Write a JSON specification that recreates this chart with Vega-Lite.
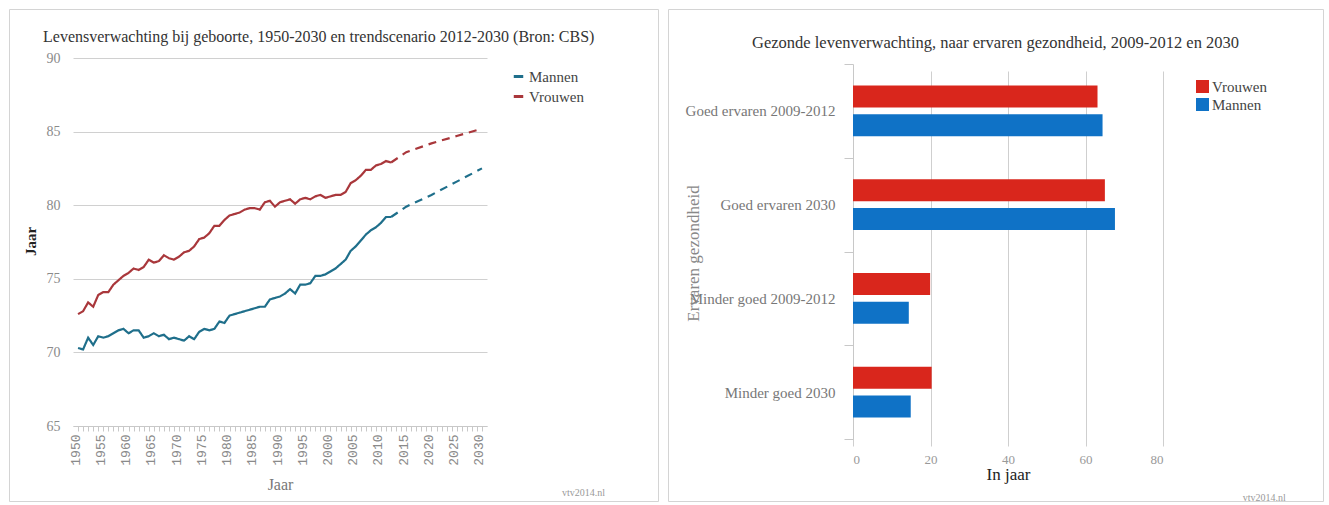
{
  "$schema": "https://vega.github.io/schema/vega-lite/v6.json",
  "background": "white",
  "padding": {"left": 8, "top": 1, "right": 0, "bottom": 0},
  "autosize": {"type": "pad"},
  "spacing": 10,
  "bounds": "flush",
  "resolve": {"scale": {"color": "independent"}, "legend": {"color": "independent"}},
  "config": {
    "font": "Liberation Serif",
    "view": {"stroke": "#d4d4d4", "strokeWidth": 1},
    "axis": {"labelFont": "Liberation Serif", "titleFont": "Liberation Serif"},
    "legend": {"labelFont": "Liberation Serif"},
    "title": {"font": "Liberation Serif", "fontWeight": "normal", "fontSize": 15, "color": "#333"},
    "text": {"font": "Liberation Serif"}
  },
  "datasets": {
    "levensverwachting": [
      {"jaar": 1950, "geslacht": "Mannen", "reeks": "waargenomen", "waarde": 70.3},
      {"jaar": 1951, "geslacht": "Mannen", "reeks": "waargenomen", "waarde": 70.2},
      {"jaar": 1952, "geslacht": "Mannen", "reeks": "waargenomen", "waarde": 71.0},
      {"jaar": 1953, "geslacht": "Mannen", "reeks": "waargenomen", "waarde": 70.5},
      {"jaar": 1954, "geslacht": "Mannen", "reeks": "waargenomen", "waarde": 71.1},
      {"jaar": 1955, "geslacht": "Mannen", "reeks": "waargenomen", "waarde": 71.0},
      {"jaar": 1956, "geslacht": "Mannen", "reeks": "waargenomen", "waarde": 71.1},
      {"jaar": 1957, "geslacht": "Mannen", "reeks": "waargenomen", "waarde": 71.3},
      {"jaar": 1958, "geslacht": "Mannen", "reeks": "waargenomen", "waarde": 71.5},
      {"jaar": 1959, "geslacht": "Mannen", "reeks": "waargenomen", "waarde": 71.6},
      {"jaar": 1960, "geslacht": "Mannen", "reeks": "waargenomen", "waarde": 71.3},
      {"jaar": 1961, "geslacht": "Mannen", "reeks": "waargenomen", "waarde": 71.5},
      {"jaar": 1962, "geslacht": "Mannen", "reeks": "waargenomen", "waarde": 71.5},
      {"jaar": 1963, "geslacht": "Mannen", "reeks": "waargenomen", "waarde": 71.0},
      {"jaar": 1964, "geslacht": "Mannen", "reeks": "waargenomen", "waarde": 71.1},
      {"jaar": 1965, "geslacht": "Mannen", "reeks": "waargenomen", "waarde": 71.3},
      {"jaar": 1966, "geslacht": "Mannen", "reeks": "waargenomen", "waarde": 71.1},
      {"jaar": 1967, "geslacht": "Mannen", "reeks": "waargenomen", "waarde": 71.2},
      {"jaar": 1968, "geslacht": "Mannen", "reeks": "waargenomen", "waarde": 70.9},
      {"jaar": 1969, "geslacht": "Mannen", "reeks": "waargenomen", "waarde": 71.0},
      {"jaar": 1970, "geslacht": "Mannen", "reeks": "waargenomen", "waarde": 70.9},
      {"jaar": 1971, "geslacht": "Mannen", "reeks": "waargenomen", "waarde": 70.8},
      {"jaar": 1972, "geslacht": "Mannen", "reeks": "waargenomen", "waarde": 71.1},
      {"jaar": 1973, "geslacht": "Mannen", "reeks": "waargenomen", "waarde": 70.9},
      {"jaar": 1974, "geslacht": "Mannen", "reeks": "waargenomen", "waarde": 71.4},
      {"jaar": 1975, "geslacht": "Mannen", "reeks": "waargenomen", "waarde": 71.6},
      {"jaar": 1976, "geslacht": "Mannen", "reeks": "waargenomen", "waarde": 71.5},
      {"jaar": 1977, "geslacht": "Mannen", "reeks": "waargenomen", "waarde": 71.6},
      {"jaar": 1978, "geslacht": "Mannen", "reeks": "waargenomen", "waarde": 72.1},
      {"jaar": 1979, "geslacht": "Mannen", "reeks": "waargenomen", "waarde": 72.0},
      {"jaar": 1980, "geslacht": "Mannen", "reeks": "waargenomen", "waarde": 72.5},
      {"jaar": 1981, "geslacht": "Mannen", "reeks": "waargenomen", "waarde": 72.6},
      {"jaar": 1982, "geslacht": "Mannen", "reeks": "waargenomen", "waarde": 72.7},
      {"jaar": 1983, "geslacht": "Mannen", "reeks": "waargenomen", "waarde": 72.8},
      {"jaar": 1984, "geslacht": "Mannen", "reeks": "waargenomen", "waarde": 72.9},
      {"jaar": 1985, "geslacht": "Mannen", "reeks": "waargenomen", "waarde": 73.0},
      {"jaar": 1986, "geslacht": "Mannen", "reeks": "waargenomen", "waarde": 73.1},
      {"jaar": 1987, "geslacht": "Mannen", "reeks": "waargenomen", "waarde": 73.1},
      {"jaar": 1988, "geslacht": "Mannen", "reeks": "waargenomen", "waarde": 73.6},
      {"jaar": 1989, "geslacht": "Mannen", "reeks": "waargenomen", "waarde": 73.7},
      {"jaar": 1990, "geslacht": "Mannen", "reeks": "waargenomen", "waarde": 73.8},
      {"jaar": 1991, "geslacht": "Mannen", "reeks": "waargenomen", "waarde": 74.0},
      {"jaar": 1992, "geslacht": "Mannen", "reeks": "waargenomen", "waarde": 74.3},
      {"jaar": 1993, "geslacht": "Mannen", "reeks": "waargenomen", "waarde": 74.0},
      {"jaar": 1994, "geslacht": "Mannen", "reeks": "waargenomen", "waarde": 74.6},
      {"jaar": 1995, "geslacht": "Mannen", "reeks": "waargenomen", "waarde": 74.6},
      {"jaar": 1996, "geslacht": "Mannen", "reeks": "waargenomen", "waarde": 74.7},
      {"jaar": 1997, "geslacht": "Mannen", "reeks": "waargenomen", "waarde": 75.2},
      {"jaar": 1998, "geslacht": "Mannen", "reeks": "waargenomen", "waarde": 75.2},
      {"jaar": 1999, "geslacht": "Mannen", "reeks": "waargenomen", "waarde": 75.3},
      {"jaar": 2000, "geslacht": "Mannen", "reeks": "waargenomen", "waarde": 75.5},
      {"jaar": 2001, "geslacht": "Mannen", "reeks": "waargenomen", "waarde": 75.7},
      {"jaar": 2002, "geslacht": "Mannen", "reeks": "waargenomen", "waarde": 76.0},
      {"jaar": 2003, "geslacht": "Mannen", "reeks": "waargenomen", "waarde": 76.3},
      {"jaar": 2004, "geslacht": "Mannen", "reeks": "waargenomen", "waarde": 76.9},
      {"jaar": 2005, "geslacht": "Mannen", "reeks": "waargenomen", "waarde": 77.2},
      {"jaar": 2006, "geslacht": "Mannen", "reeks": "waargenomen", "waarde": 77.6},
      {"jaar": 2007, "geslacht": "Mannen", "reeks": "waargenomen", "waarde": 78.0},
      {"jaar": 2008, "geslacht": "Mannen", "reeks": "waargenomen", "waarde": 78.3},
      {"jaar": 2009, "geslacht": "Mannen", "reeks": "waargenomen", "waarde": 78.5},
      {"jaar": 2010, "geslacht": "Mannen", "reeks": "waargenomen", "waarde": 78.8},
      {"jaar": 2011, "geslacht": "Mannen", "reeks": "waargenomen", "waarde": 79.2},
      {"jaar": 2012, "geslacht": "Mannen", "reeks": "waargenomen", "waarde": 79.2},
      {"jaar": 2012, "geslacht": "Mannen", "reeks": "trend", "waarde": 79.2},
      {"jaar": 2015, "geslacht": "Mannen", "reeks": "trend", "waarde": 79.9},
      {"jaar": 2020, "geslacht": "Mannen", "reeks": "trend", "waarde": 80.7},
      {"jaar": 2025, "geslacht": "Mannen", "reeks": "trend", "waarde": 81.6},
      {"jaar": 2030, "geslacht": "Mannen", "reeks": "trend", "waarde": 82.5},
      {"jaar": 1950, "geslacht": "Vrouwen", "reeks": "waargenomen", "waarde": 72.6},
      {"jaar": 1951, "geslacht": "Vrouwen", "reeks": "waargenomen", "waarde": 72.8},
      {"jaar": 1952, "geslacht": "Vrouwen", "reeks": "waargenomen", "waarde": 73.4},
      {"jaar": 1953, "geslacht": "Vrouwen", "reeks": "waargenomen", "waarde": 73.1},
      {"jaar": 1954, "geslacht": "Vrouwen", "reeks": "waargenomen", "waarde": 73.9},
      {"jaar": 1955, "geslacht": "Vrouwen", "reeks": "waargenomen", "waarde": 74.1},
      {"jaar": 1956, "geslacht": "Vrouwen", "reeks": "waargenomen", "waarde": 74.1},
      {"jaar": 1957, "geslacht": "Vrouwen", "reeks": "waargenomen", "waarde": 74.6},
      {"jaar": 1958, "geslacht": "Vrouwen", "reeks": "waargenomen", "waarde": 74.9},
      {"jaar": 1959, "geslacht": "Vrouwen", "reeks": "waargenomen", "waarde": 75.2},
      {"jaar": 1960, "geslacht": "Vrouwen", "reeks": "waargenomen", "waarde": 75.4},
      {"jaar": 1961, "geslacht": "Vrouwen", "reeks": "waargenomen", "waarde": 75.7},
      {"jaar": 1962, "geslacht": "Vrouwen", "reeks": "waargenomen", "waarde": 75.6},
      {"jaar": 1963, "geslacht": "Vrouwen", "reeks": "waargenomen", "waarde": 75.8},
      {"jaar": 1964, "geslacht": "Vrouwen", "reeks": "waargenomen", "waarde": 76.3},
      {"jaar": 1965, "geslacht": "Vrouwen", "reeks": "waargenomen", "waarde": 76.1},
      {"jaar": 1966, "geslacht": "Vrouwen", "reeks": "waargenomen", "waarde": 76.2},
      {"jaar": 1967, "geslacht": "Vrouwen", "reeks": "waargenomen", "waarde": 76.6},
      {"jaar": 1968, "geslacht": "Vrouwen", "reeks": "waargenomen", "waarde": 76.4},
      {"jaar": 1969, "geslacht": "Vrouwen", "reeks": "waargenomen", "waarde": 76.3},
      {"jaar": 1970, "geslacht": "Vrouwen", "reeks": "waargenomen", "waarde": 76.5},
      {"jaar": 1971, "geslacht": "Vrouwen", "reeks": "waargenomen", "waarde": 76.8},
      {"jaar": 1972, "geslacht": "Vrouwen", "reeks": "waargenomen", "waarde": 76.9},
      {"jaar": 1973, "geslacht": "Vrouwen", "reeks": "waargenomen", "waarde": 77.2},
      {"jaar": 1974, "geslacht": "Vrouwen", "reeks": "waargenomen", "waarde": 77.7},
      {"jaar": 1975, "geslacht": "Vrouwen", "reeks": "waargenomen", "waarde": 77.8},
      {"jaar": 1976, "geslacht": "Vrouwen", "reeks": "waargenomen", "waarde": 78.1},
      {"jaar": 1977, "geslacht": "Vrouwen", "reeks": "waargenomen", "waarde": 78.6},
      {"jaar": 1978, "geslacht": "Vrouwen", "reeks": "waargenomen", "waarde": 78.6},
      {"jaar": 1979, "geslacht": "Vrouwen", "reeks": "waargenomen", "waarde": 79.0},
      {"jaar": 1980, "geslacht": "Vrouwen", "reeks": "waargenomen", "waarde": 79.3},
      {"jaar": 1981, "geslacht": "Vrouwen", "reeks": "waargenomen", "waarde": 79.4},
      {"jaar": 1982, "geslacht": "Vrouwen", "reeks": "waargenomen", "waarde": 79.5},
      {"jaar": 1983, "geslacht": "Vrouwen", "reeks": "waargenomen", "waarde": 79.7},
      {"jaar": 1984, "geslacht": "Vrouwen", "reeks": "waargenomen", "waarde": 79.8},
      {"jaar": 1985, "geslacht": "Vrouwen", "reeks": "waargenomen", "waarde": 79.8},
      {"jaar": 1986, "geslacht": "Vrouwen", "reeks": "waargenomen", "waarde": 79.7},
      {"jaar": 1987, "geslacht": "Vrouwen", "reeks": "waargenomen", "waarde": 80.2},
      {"jaar": 1988, "geslacht": "Vrouwen", "reeks": "waargenomen", "waarde": 80.3},
      {"jaar": 1989, "geslacht": "Vrouwen", "reeks": "waargenomen", "waarde": 79.9},
      {"jaar": 1990, "geslacht": "Vrouwen", "reeks": "waargenomen", "waarde": 80.2},
      {"jaar": 1991, "geslacht": "Vrouwen", "reeks": "waargenomen", "waarde": 80.3},
      {"jaar": 1992, "geslacht": "Vrouwen", "reeks": "waargenomen", "waarde": 80.4},
      {"jaar": 1993, "geslacht": "Vrouwen", "reeks": "waargenomen", "waarde": 80.1},
      {"jaar": 1994, "geslacht": "Vrouwen", "reeks": "waargenomen", "waarde": 80.4},
      {"jaar": 1995, "geslacht": "Vrouwen", "reeks": "waargenomen", "waarde": 80.5},
      {"jaar": 1996, "geslacht": "Vrouwen", "reeks": "waargenomen", "waarde": 80.4},
      {"jaar": 1997, "geslacht": "Vrouwen", "reeks": "waargenomen", "waarde": 80.6},
      {"jaar": 1998, "geslacht": "Vrouwen", "reeks": "waargenomen", "waarde": 80.7},
      {"jaar": 1999, "geslacht": "Vrouwen", "reeks": "waargenomen", "waarde": 80.5},
      {"jaar": 2000, "geslacht": "Vrouwen", "reeks": "waargenomen", "waarde": 80.6},
      {"jaar": 2001, "geslacht": "Vrouwen", "reeks": "waargenomen", "waarde": 80.7},
      {"jaar": 2002, "geslacht": "Vrouwen", "reeks": "waargenomen", "waarde": 80.7},
      {"jaar": 2003, "geslacht": "Vrouwen", "reeks": "waargenomen", "waarde": 80.9},
      {"jaar": 2004, "geslacht": "Vrouwen", "reeks": "waargenomen", "waarde": 81.5},
      {"jaar": 2005, "geslacht": "Vrouwen", "reeks": "waargenomen", "waarde": 81.7},
      {"jaar": 2006, "geslacht": "Vrouwen", "reeks": "waargenomen", "waarde": 82.0},
      {"jaar": 2007, "geslacht": "Vrouwen", "reeks": "waargenomen", "waarde": 82.4},
      {"jaar": 2008, "geslacht": "Vrouwen", "reeks": "waargenomen", "waarde": 82.4},
      {"jaar": 2009, "geslacht": "Vrouwen", "reeks": "waargenomen", "waarde": 82.7},
      {"jaar": 2010, "geslacht": "Vrouwen", "reeks": "waargenomen", "waarde": 82.8},
      {"jaar": 2011, "geslacht": "Vrouwen", "reeks": "waargenomen", "waarde": 83.0},
      {"jaar": 2012, "geslacht": "Vrouwen", "reeks": "waargenomen", "waarde": 82.9},
      {"jaar": 2012, "geslacht": "Vrouwen", "reeks": "trend", "waarde": 82.9},
      {"jaar": 2015, "geslacht": "Vrouwen", "reeks": "trend", "waarde": 83.6},
      {"jaar": 2020, "geslacht": "Vrouwen", "reeks": "trend", "waarde": 84.2},
      {"jaar": 2025, "geslacht": "Vrouwen", "reeks": "trend", "waarde": 84.7},
      {"jaar": 2030, "geslacht": "Vrouwen", "reeks": "trend", "waarde": 85.2}
    ],
    "gezond": [
      {"categorie": "Goed ervaren 2009-2012", "geslacht": "Vrouwen", "jaren": 63.1},
      {"categorie": "Goed ervaren 2009-2012", "geslacht": "Mannen", "jaren": 64.4},
      {"categorie": "Goed ervaren 2030", "geslacht": "Vrouwen", "jaren": 65.0},
      {"categorie": "Goed ervaren 2030", "geslacht": "Mannen", "jaren": 67.6},
      {"categorie": "Minder goed 2009-2012", "geslacht": "Vrouwen", "jaren": 19.9},
      {"categorie": "Minder goed 2009-2012", "geslacht": "Mannen", "jaren": 14.4},
      {"categorie": "Minder goed 2030", "geslacht": "Vrouwen", "jaren": 20.3},
      {"categorie": "Minder goed 2030", "geslacht": "Mannen", "jaren": 14.9}
    ],
    "bron": [{"tekst": "vtv2014.nl"}]
  },
  "hconcat": [
    {
      "width": 649,
      "height": 492,
      "title": {
        "text": "Levensverwachting bij geboorte, 1950-2030 en trendscenario 2012-2030 (Bron: CBS)",
        "orient": "top", "anchor": "start", "frame": "group",
        "offset": -36, "dx": 34, "fontSize": 16, "color": "#333"
      },
      "layer": [
        {
          "data": {"name": "levensverwachting"},
          "mark": {"type": "line", "strokeWidth": 2.2},
          "encoding": {
            "x": {
              "field": "jaar", "type": "quantitative",
              "scale": {"domain": [1949, 2031], "range": [64, 478], "nice": false, "zero": false},
              "axis": {
                "offset": -75,
                "tickCount": 500,
                "values": [1950,1951,1952,1953,1954,1955,1956,1957,1958,1959,1960,1961,1962,1963,1964,1965,1966,1967,1968,1969,1970,1971,1972,1973,1974,1975,1976,1977,1978,1979,1980,1981,1982,1983,1984,1985,1986,1987,1988,1989,1990,1991,1992,1993,1994,1995,1996,1997,1998,1999,2000,2001,2002,2003,2004,2005,2006,2007,2008,2009,2010,2011,2012,2013,2014,2015,2016,2017,2018,2019,2020,2021,2022,2023,2024,2025,2026,2027,2028,2029,2030],
                "format": "d",
                "labelExpr": "datum.value % 5 === 0 ? datum.label : ''",
                "labelAngle": 270, "labelAlign": "right", "labelBaseline": "middle",
                "labelPadding": 3, "labelOffset": -3,
                "labelOverlap": false, "labelFlush": false, "labelBound": false,
                "labelFont": "Liberation Mono", "labelFontSize": 13, "labelColor": "#8a8a8a",
                "tickSize": 5, "tickColor": "#c8c8c8", "domainColor": "#c8c8c8",
                "grid": false,
                "title": "Jaar", "titleY": 50, "titleFontSize": 16, "titleFontWeight": "normal", "titleColor": "#777"
              }
            },
            "y": {
              "field": "waarde", "type": "quantitative",
              "scale": {"domain": [65, 90], "range": [417, 49], "nice": false, "zero": false},
              "axis": {
                "offset": -64,
                "values": [65, 70, 75, 80, 85, 90],
                "domain": false, "ticks": false, "tickSize": 0,
                "labelPadding": 13, "labelColor": "#8a8a8a", "labelFontSize": 14,
                "grid": true, "gridColor": "#d0d0d0",
                "title": "Jaar", "titleX": -38, "titleY": 232, "titleAngle": 270,
                "titleBaseline": "alphabetic", "titleColor": "#222",
                "titleFontWeight": "bold", "titleFontSize": 15
              }
            },
            "color": {
              "field": "geslacht", "type": "nominal",
              "scale": {"domain": ["Mannen", "Vrouwen"], "range": ["#1f6f8b", "#a9373b"]},
              "legend": {
                "title": null, "orient": "none", "legendX": 502, "legendY": 60,
                "symbolType": "stroke", "symbolStrokeWidth": 3, "symbolSize": 90,
                "labelFontSize": 15, "labelColor": "#444", "labelOffset": 3, "rowPadding": 4
              }
            },
            "strokeDash": {
              "field": "reeks", "type": "nominal",
              "scale": {"domain": ["waargenomen", "trend"], "range": [[1, 0], [8, 6]]},
              "legend": null
            }
          }
        },
        {
          "data": {"name": "bron"},
          "mark": {"type": "text", "align": "right", "baseline": "middle", "fontSize": 10, "color": "#999"},
          "encoding": {
            "x": {"datum": 2054.4, "type": "quantitative"},
            "y": {"datum": 60.45, "type": "quantitative"},
            "text": {"field": "tekst"}
          }
        }
      ]
    },
    {
      "width": 655,
      "height": 492,
      "title": {
        "text": "Gezonde levenverwachting, naar ervaren gezondheid, 2009-2012 en 2030",
        "orient": "top", "anchor": "middle", "frame": "group",
        "offset": -49, "fontSize": 16.5, "color": "#333"
      },
      "layer": [
        {
          "data": {"name": "gezond"},
          "mark": {"type": "bar"},
          "encoding": {
            "y": {
              "field": "categorie", "type": "nominal",
              "sort": ["Goed ervaren 2009-2012", "Goed ervaren 2030", "Minder goed 2009-2012", "Minder goed 2030"],
              "scale": {
                "domain": ["Goed ervaren 2009-2012", "Goed ervaren 2030", "Minder goed 2009-2012", "Minder goed 2030"],
                "range": [55, 430], "paddingInner": 0, "paddingOuter": 0
              },
              "axis": {
                "offset": -185,
                "domainColor": "#c8c8c8", "tickColor": "#c8c8c8", "tickSize": 9, "tickBand": "extent",
                "labelPadding": 9, "labelColor": "#777", "labelFontSize": 15, "labelLimit": 300,
                "grid": false,
                "title": "Ervaren gezondheid", "titleX": -155, "titleY": 244, "titleAngle": 270,
                "titleBaseline": "alphabetic", "titleColor": "#888", "titleFontSize": 17, "titleFontWeight": "normal"
              }
            },
            "yOffset": {
              "field": "geslacht", "type": "nominal",
              "sort": ["Vrouwen", "Mannen"],
              "scale": {"domain": ["Vrouwen", "Mannen"], "paddingInner": 0.24, "paddingOuter": 0.74}
            },
            "x": {
              "field": "jaren", "type": "quantitative",
              "scale": {"domain": [0, 80], "range": [185, 495], "nice": false},
              "axis": {
                "offset": -62,
                "values": [0, 20, 40, 60, 80],
                "domain": false, "ticks": false, "tickSize": 0,
                "labelPadding": 14, "labelColor": "#999", "labelFontSize": 13,
                "grid": true, "gridColor": "#cfcfcf",
                "title": "In jaar", "titleY": 27, "titleColor": "#222", "titleFontSize": 17, "titleFontWeight": "normal"
              }
            },
            "color": {
              "field": "geslacht", "type": "nominal",
              "scale": {"domain": ["Vrouwen", "Mannen"], "range": ["#d9261c", "#0f72c6"]},
              "legend": {
                "title": null, "orient": "none", "legendX": 527, "legendY": 70,
                "symbolType": "square", "symbolSize": 170, "symbolStrokeWidth": 0,
                "labelFontSize": 15, "labelColor": "#444", "labelOffset": 2, "rowPadding": 2
              }
            }
          }
        },
        {
          "data": {"name": "bron"},
          "mark": {"type": "text", "align": "right", "baseline": "middle", "fontSize": 10, "color": "#999", "dy": 106},
          "encoding": {
            "x": {"datum": 111.7, "type": "quantitative"},
            "y": {"datum": "Minder goed 2030", "type": "nominal"},
            "text": {"field": "tekst"}
          }
        }
      ]
    }
  ]
}
